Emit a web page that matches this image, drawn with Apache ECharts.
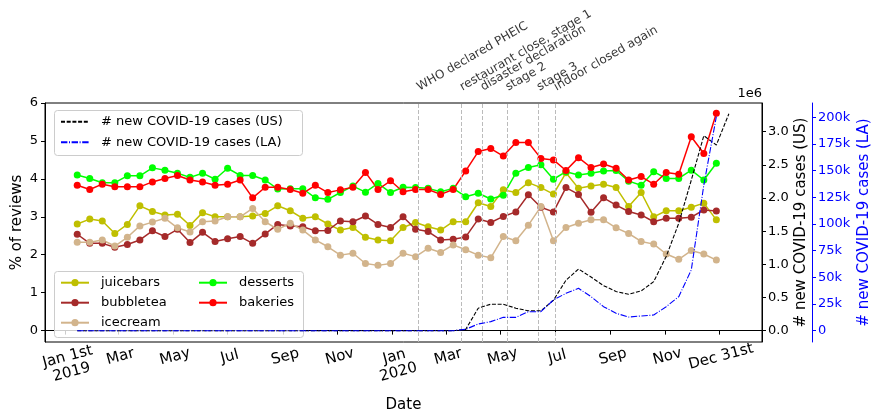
<!DOCTYPE html>
<html><head><meta charset="utf-8">
<script src="https://cdn.jsdelivr.net/npm/echarts@6/dist/echarts.min.js"></script>
<style>html,body{margin:0;padding:0;background:#fff}#c{width:872px;height:417px}</style>
</head><body><div id="c"></div>
<script>
// ---- data ----
const dates = ['2019-01-14','2019-01-28','2019-02-11','2019-02-25','2019-03-11','2019-03-25','2019-04-08','2019-04-22',
  '2019-05-06','2019-05-20','2019-06-03','2019-06-17','2019-07-01','2019-07-15','2019-07-29','2019-08-12','2019-08-26',
  '2019-09-09','2019-09-23','2019-10-07','2019-10-21','2019-11-04','2019-11-18','2019-12-02','2019-12-16','2019-12-30',
  '2020-01-13','2020-01-27','2020-02-10','2020-02-24','2020-03-09','2020-03-23','2020-04-06','2020-04-20','2020-05-04',
  '2020-05-18','2020-06-01','2020-06-15','2020-06-29','2020-07-13','2020-07-27','2020-08-10','2020-08-24','2020-09-07',
  '2020-09-21','2020-10-05','2020-10-19','2020-11-02','2020-11-16','2020-11-30','2020-12-14','2020-12-28','2021-01-11'];

const juicebars = [2.81,2.94,2.89,2.56,2.80,3.29,3.14,3.05,3.07,2.77,3.11,3.00,3.00,3.00,3.02,3.09,3.29,3.16,2.96,3.00,2.81,2.65,2.72,2.46,2.39,2.37,
  2.72,2.85,2.74,2.65,2.87,2.87,3.37,3.27,3.71,3.64,3.90,3.77,3.60,4.16,3.75,3.81,3.86,3.77,3.27,3.64,3.00,3.16,3.16,3.25,3.36,2.92];
const bubbletea = [2.54,2.30,2.30,2.20,2.27,2.39,2.63,2.48,2.67,2.32,2.59,2.35,2.42,2.48,2.30,2.55,2.80,2.76,2.74,2.63,2.64,2.89,2.87,3.02,2.80,2.72,
  3.00,2.67,2.61,2.39,2.41,2.47,2.94,2.85,3.01,3.13,3.58,3.25,3.13,3.77,3.59,3.12,3.50,3.31,3.14,3.05,2.87,2.96,2.96,2.99,3.18,3.15];
const icecream = [2.33,2.33,2.39,2.23,2.46,2.76,2.86,2.96,2.71,2.60,2.87,2.89,3.00,3.00,3.22,2.87,2.67,2.83,2.65,2.39,2.21,1.99,2.04,1.77,1.72,1.77,
  2.04,1.95,2.17,2.06,2.26,2.13,1.99,1.92,2.48,2.37,2.78,3.27,2.37,2.72,2.83,2.92,2.92,2.71,2.56,2.35,2.28,2.02,1.88,2.11,2.02,1.86];
const desserts = [4.10,4.01,3.90,3.90,4.08,4.08,4.29,4.23,4.15,4.04,4.15,3.99,4.28,4.09,4.09,3.97,3.73,3.74,3.74,3.50,3.46,3.64,3.81,3.65,3.88,3.64,
  3.78,3.77,3.75,3.66,3.75,3.53,3.62,3.47,3.57,4.15,4.30,4.37,3.99,4.19,4.10,4.15,4.21,4.22,3.94,3.83,4.19,4.01,4.01,4.23,3.97,4.41];
const bakeries = [3.83,3.72,3.86,3.79,3.79,3.79,3.92,4.01,4.09,3.97,3.92,3.83,3.86,3.97,3.50,3.78,3.78,3.72,3.62,3.83,3.64,3.71,3.78,4.17,3.72,3.95,
  3.66,3.72,3.72,3.59,3.72,4.21,4.72,4.80,4.60,4.96,4.96,4.54,4.50,4.22,4.56,4.30,4.39,4.28,3.97,4.06,3.86,4.17,4.12,5.11,4.67,5.73];

const casesUS = [0,0,0,0,0,0,0,0,0,0,0,0,0,0,0,0,0,0,0,0,0,0,0,0,0,0,0,0,0,0,0,
  20000,340000,400000,400000,340000,300000,300000,460000,760000,930000,810000,680000,590000,550000,600000,740000,
  1120000,1620000,2270000,2940000,2800000,3270000];
const casesLA = [0,0,0,0,0,0,0,0,0,0,0,0,0,0,0,0,0,0,0,0,0,0,0,0,0,0,0,0,0,0,0,
  1300,6300,8500,12500,12500,17800,17800,28800,35000,39700,31900,22500,16300,12800,13800,14700,
  22500,31900,56900,136500,200600];

const eventDates = ['2020-01-30','2020-03-18','2020-04-10','2020-05-08','2020-06-12','2020-07-01'];
const eventLabels = ['WHO declared PHEIC','restaurant close, stage 1','disaster declaration','stage 2','stage 3','indoor closed again'];

const xTickDates = ['2019-01-01','2019-03-01','2019-05-01','2019-07-01','2019-09-01','2019-11-01',
  '2020-01-01','2020-03-01','2020-05-01','2020-07-01','2020-09-01','2020-11-01','2020-12-31'];
const xTickLabels = ['Jan 1st\n2019','Mar','May','Jul','Sep','Nov','Jan\n2020','Mar','May','Jul','Sep','Nov','Dec 31st'];
const yTicksLeft = [0,1,2,3,4,5,6];
const yTicksUS = [0,500000,1000000,1500000,2000000,2500000,3000000];
const yTicksLA = [0,25000,50000,75000,100000,125000,150000,175000,200000];

// ---- chart ----
const FONT = 'DejaVu Sans';
const t = s => { const p = s.split('-').map(Number); return Date.UTC(p[0], p[1]-1, p[2]); };
const pairs = vals => vals.map((v, i) => [t(dates[i]), v]);
const xTicks = xTickDates.map(t);

function reviewSeries(name, vals, color) {
  return { name, type: 'line', data: pairs(vals), xAxisIndex: 0, yAxisIndex: 0,
    symbol: 'circle', symbolSize: 7, showSymbol: true,
    lineStyle: { color, width: 1.5 }, itemStyle: { color }, z: 3 };
}
const txt = (size, color) => ({ fontSize: size, fontFamily: FONT, color: color || '#000' });

const chart = echarts.init(document.getElementById('c'));
chart.setOption({
  animation: false,
  backgroundColor: '#fff',
  grid: { left: 45, right: 110, top: 103, bottom: 75, show: true, borderColor: '#000', borderWidth: 1,
    backgroundColor: 'transparent', containLabel: false, outerBoundsMode: 'none' },
  graphic: [
    { type: 'rect', left: 54, top: 110, z: 1, silent: true, shape: { width: 248, height: 45, r: 3 },
      style: { fill: 'rgba(255,255,255,0.8)', stroke: '#cccccc', lineWidth: 1 } },
    { type: 'rect', left: 54, top: 271, z: 1, silent: true, shape: { width: 249, height: 66, r: 3 },
      style: { fill: 'rgba(255,255,255,0.8)', stroke: '#cccccc', lineWidth: 1 } }
  ],
  legend: [
    { data: ['# new COVID-19 cases (US)', '# new COVID-19 cases (LA)'], orient: 'vertical', left: 60, top: 114.7, padding: 0,
      itemWidth: 28, itemHeight: 10, itemGap: 6.6, selectedMode: false,
      itemStyle: { color: 'transparent', borderColor: 'transparent', borderWidth: 0, opacity: 0 },
      textStyle: Object.assign(txt(13), { lineHeight: 14, padding: [0, 0, 0, 7] }) },
    { data: ['juicebars', 'bubbletea', 'icecream'], orient: 'vertical', left: 60, top: 275.7, padding: 0,
      itemWidth: 28, itemHeight: 9, itemGap: 6, selectedMode: false,
      textStyle: Object.assign(txt(13), { lineHeight: 14, padding: [0, 0, 0, 7] }) },
    { data: ['desserts', 'bakeries'], orient: 'vertical', left: 198, top: 275.7, padding: 0,
      itemWidth: 28, itemHeight: 9, itemGap: 6, selectedMode: false,
      textStyle: Object.assign(txt(13), { lineHeight: 14, padding: [0, 0, 0, 7] }) }
  ],
  xAxis: [{
    type: 'value', min: t('2018-12-09'), max: t('2021-02-17'), scale: true,
    axisLine: { show: true, lineStyle: { color: '#000', width: 1 } },
    axisTick: { show: true, customValues: xTicks, length: 4, lineStyle: { color: '#000' } },
    axisLabel: { customValues: xTicks, rotate: 15, align: 'center', verticalAlign: 'top', margin: 7, lineHeight: 16,
      fontSize: 15, fontFamily: FONT, color: '#000', hideOverlap: false, showMinLabel: true, showMaxLabel: true,
      formatter: v => { const i = xTicks.indexOf(v); return i >= 0 ? xTickLabels[i] : ''; } },
    splitLine: { show: false },
    name: 'Date', nameLocation: 'middle', nameGap: 56, nameMoveOverlap: false, nameTextStyle: txt(15)
  }],
  yAxis: [
    { type: 'value', position: 'left', min: -0.3, max: 6,
      axisLine: { show: true, lineStyle: { color: '#000' } },
      axisTick: { show: true, customValues: yTicksLeft, length: 4, lineStyle: { color: '#000' } },
      axisLabel: Object.assign(txt(13), { customValues: yTicksLeft, margin: 7, formatter: v => String(v) }),
      splitLine: { show: false },
      name: '% of reviews', nameLocation: 'middle', nameRotate: 90, nameGap: 20, nameMoveOverlap: false, nameTextStyle: txt(15) },
    { type: 'value', position: 'right', offset: 0, min: -170000, max: 3433000,
      axisLine: { show: true, lineStyle: { color: '#000' } },
      axisTick: { show: true, customValues: yTicksUS, length: 4, lineStyle: { color: '#000' } },
      axisLabel: Object.assign(txt(13), { customValues: yTicksUS, margin: 6, formatter: v => (v / 1e6).toFixed(1) }),
      splitLine: { show: false },
      name: '# new COVID-19 cases (US)', nameLocation: 'middle', nameRotate: 90, nameGap: 32, nameMoveOverlap: false, nameTextStyle: txt(15) },
    { type: 'value', position: 'right', offset: 0, min: -170000, max: 3433000,
      axisLine: { show: false }, axisTick: { show: false }, axisLabel: { show: false }, splitLine: { show: false },
      name: '1e6', nameLocation: 'end', nameGap: 3, nameMoveOverlap: false, nameTextStyle: Object.assign(txt(13), { align: 'right', verticalAlign: 'bottom' }) },
    { type: 'value', position: 'right', offset: 50, min: -10600, max: 213400,
      axisLine: { show: true, lineStyle: { color: '#0000ff' } },
      axisTick: { show: true, customValues: yTicksLA, length: 4, lineStyle: { color: '#0000ff' } },
      axisLabel: Object.assign(txt(13, '#0000ff'), { customValues: yTicksLA, margin: 6,
        formatter: v => v === 0 ? '0' : (v / 1000) + 'k' }),
      splitLine: { show: false },
      name: '# new COVID-19 cases (LA)', nameLocation: 'middle', nameRotate: 90, nameGap: 45, nameMoveOverlap: false, nameTextStyle: txt(15, '#0000ff') }
  ],
  series: [
    reviewSeries('juicebars', juicebars, '#bfbf00'),
    reviewSeries('bubbletea', bubbletea, '#a52a2a'),
    reviewSeries('icecream', icecream, '#d2b48c'),
    reviewSeries('desserts', desserts, '#00ff00'),
    reviewSeries('bakeries', bakeries, '#ff0000'),
    { name: '# new COVID-19 cases (US)', type: 'line', yAxisIndex: 1, data: pairs(casesUS), symbol: 'none', z: 5,
      lineStyle: { color: '#000000', width: 1.1, type: [4, 1.7] }, itemStyle: { color: '#000000' } },
    { name: '# new COVID-19 cases (LA)', type: 'line', yAxisIndex: 3, data: pairs(casesLA), symbol: 'none', z: 5,
      lineStyle: { color: '#0000ff', width: 1.1, type: [6.4, 1.6, 1, 1.6] }, itemStyle: { color: '#0000ff' } },
    { name: 'events', type: 'scatter', yAxisIndex: 0, symbolSize: 1, silent: true, clip: false,
      itemStyle: { color: 'transparent' },
      data: eventDates.map((d, i) => ({ value: [t(d), 6], label: { formatter: eventLabels[i] } })),
      label: Object.assign(txt(12), { show: true, position: [0, 0], rotate: 30, align: 'left', verticalAlign: 'bottom', offset: [7.5, -6.5] }),
      markLine: { symbol: ['none', 'none'], silent: true, animation: false, label: { show: false },
        lineStyle: { color: '#bbbbbb', type: [4, 2], width: 1 },
        data: eventDates.map(d => ({ xAxis: t(d) })) } }
  ]
});
</script>
</body></html>
